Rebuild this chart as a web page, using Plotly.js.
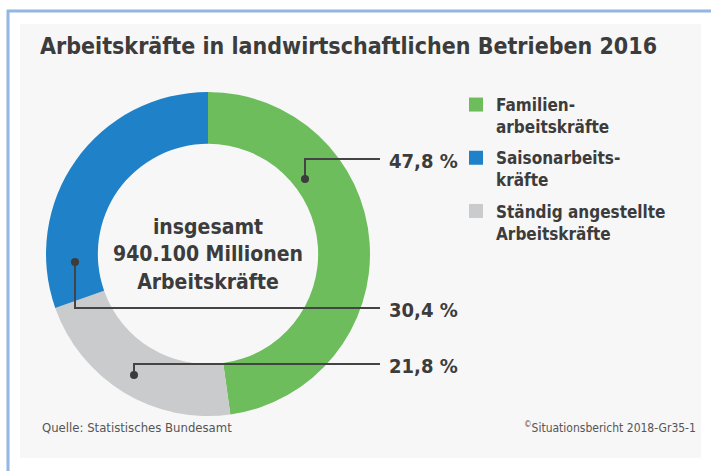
<!DOCTYPE html>
<html>
<head>
<meta charset="utf-8">
<script src="https://cdn.plot.ly/plotly-3.0.1.min.js"></script>
<style>html,body{margin:0;padding:0;background:#fff;}#chart{width:711px;height:471px;}</style>
</head>
<body>
<div id="chart"></div>
<script>
// ---- data ----
const categories = ["Familien-<br>arbeitskräfte", "Ständig angestellte<br>Arbeitskräfte", "Saisonarbeits-<br>kräfte"];
const values = [47.8, 21.8, 30.4];
const sliceColors = ["#6dbd5c", "#cacbcc", "#1f82c8"];
const labelTexts = ["47,8 %", "21,8 %", "30,4 %"];
const legendOrder = [0, 2, 1];
const centerText = "insgesamt<br>940.100 Millionen<br>Arbeitskräfte";
const titleText = "Arbeitskräfte in landwirtschaftlichen Betrieben 2016";
const sourceText = "Quelle: Statistisches Bundesamt";
const creditText = "<sup>©</sup>Situationsbericht 2018-Gr35-1";

const W = 711, H = 471;
const FONT = "DejaVu Sans Condensed, DejaVu Sans, sans-serif";
const TXT = "#3c3c3c";
const px = x => x / W;
const py = y => 1 - y / H;

// pie geometry (pixels)
const cx = 208, cy = 254, R = 162;

const traces = [{
  type: "pie",
  values: values,
  labels: categories,
  marker: {colors: sliceColors, line: {width: 0}},
  hole: 0.68,
  sort: false,
  direction: "clockwise",
  rotation: 0,
  textinfo: "none",
  hoverinfo: "none",
  showlegend: false,
  domain: {x: [px(cx - R), px(cx + R)], y: [py(cy + R), py(cy - R)]}
}];
legendOrder.forEach((i, k) => {
  traces.push({
    type: "scatter", mode: "markers",
    x: [null], y: [null],
    name: categories[i],
    legendgroup: "g" + k,
    marker: {symbol: "square", size: 14, color: sliceColors[i]},
    hoverinfo: "none"
  });
});

// leader lines: dot (in slice), elbow y, end x
const leaders = [
  {dot: [305, 179], y: 159, label: labelTexts[0]},
  {dot: [75, 262], y: 308, label: labelTexts[2]},
  {dot: [134, 375], y: 364, label: labelTexts[1]}
];
const shapes = [
  {type: "rect", xref: "paper", yref: "paper", x0: px(20), x1: px(701), y0: py(458), y1: py(24),
   fillcolor: "#f7f7f7", line: {width: 0}, layer: "below"},
  {type: "line", xref: "paper", yref: "paper", x0: px(7), x1: px(711), y0: py(11), y1: py(11),
   line: {color: "#93b6e2", width: 3}},
  {type: "line", xref: "paper", yref: "paper", x0: px(8), x1: px(8), y0: py(10), y1: py(471),
   line: {color: "#93b6e2", width: 3}}
];
const annotations = [
  {text: centerText, xref: "paper", yref: "paper", x: px(cx), y: py(cy), xanchor: "center", yanchor: "middle",
   showarrow: false, font: {family: FONT, size: 21, color: TXT, weight: "bold"}, align: "center"},
  {text: sourceText, xref: "paper", yref: "paper", x: px(40), y: py(437), xanchor: "left", showarrow: false,
   font: {family: FONT, size: 13, color: "#555"}},
  {text: creditText, xref: "paper", yref: "paper", x: px(698), y: py(437), xanchor: "right", showarrow: false,
   font: {family: FONT, size: 12, color: "#555"}}
];
leaders.forEach(l => {
  shapes.push({type: "path", xref: "paper", yref: "paper",
    path: `M ${px(l.dot[0])} ${py(l.dot[1])} L ${px(l.dot[0])} ${py(l.y)} L ${px(380)} ${py(l.y)}`,
    line: {color: "#444", width: 2}});
  shapes.push({type: "circle", xref: "paper", yref: "paper",
    x0: px(l.dot[0] - 4), x1: px(l.dot[0] + 4), y0: py(l.dot[1] + 4), y1: py(l.dot[1] - 4),
    fillcolor: "#3c3c3c", line: {width: 0}});
  annotations.push({text: l.label, xref: "paper", yref: "paper", x: px(387), y: py(l.y + 2),
    xanchor: "left", yanchor: "middle", showarrow: false,
    font: {family: FONT, size: 20, color: TXT, weight: "bold"}});
});

const layout = {
  width: W, height: H,
  margin: {l: 0, r: 0, t: 0, b: 0},
  paper_bgcolor: "#ffffff",
  plot_bgcolor: "rgba(0,0,0,0)",
  title: {text: titleText, x: px(40), xanchor: "left", xref: "paper", yref: "paper", y: py(46), yanchor: "middle",
          font: {family: FONT, size: 23, color: TXT, weight: "bold"}},
  xaxis: {visible: false, domain: [0.9, 1]},
  yaxis: {visible: false, domain: [0.9, 1]},
  showlegend: true,
  legend: {x: px(456), y: py(87), xanchor: "left", yanchor: "top", bgcolor: "rgba(0,0,0,0)",
           font: {family: FONT, size: 17, color: TXT, weight: "bold"}, valign: "top",
           tracegroupgap: 6, itemclick: false, itemdoubleclick: false},
  shapes: shapes,
  annotations: annotations
};
Plotly.newPlot("chart", traces, layout, {displayModeBar: false, staticPlot: true});
</script>
</body>
</html>
